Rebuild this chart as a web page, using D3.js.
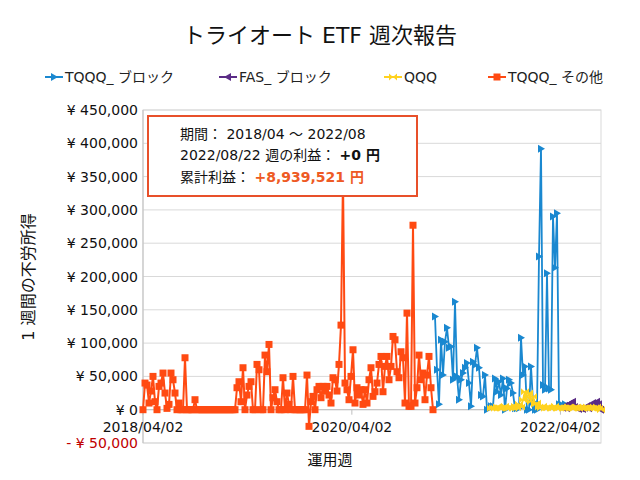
<!DOCTYPE html>
<html><head><meta charset="utf-8">
<script src="https://cdn.jsdelivr.net/npm/d3@7"></script>
<style>body{margin:0;background:#fff}svg{font-family:"DejaVu Sans","Noto Sans CJK JP",sans-serif}</style>
</head><body>
<svg id="c" width="640" height="480"></svg>
<script>
// ---- data ----
const startDate = "2018-04-02";
const endDate = "2022-08-22";
const seriesNames = ["TQQQ_ ブロック", "FAS_ ブロック", "QQQ", "TQQQ_ その他"];
// weekly values (yen); each series starts at the given week index
const tqqqOtherStart = 0;
const tqqqOther = [0,40000,37000,10000,28000,50000,12000,0,35000,40000,55000,25000,2000,8000,55000,45000,25000,0,10000,0,0,78000,0,0,0,0,15000,
0,0,0,0,0,0,0,0,0,0,0,0,0,0,0,0,0,0,0,0,
33000,42000,12000,63000,0,22000,35000,42000,0,0,68000,60000,0,0,82000,57000,98000,0,18000,30000,12000,0,0,48000,0,25000,8000,0,50000,
0,0,0,0,0,0,
52000,-25000,12000,20000,0,30000,35000,18000,35000,28000,35000,22000,10000,48000,45000,28000,68000,127000,350000,
40000,30000,15000,50000,90000,10000,33000,22000,30000,8000,30000,10000,45000,63000,20000,27000,40000,68000,80000,27000,65000,80000,45000,65000,110000,105000,57000,48000,87000,78000,10000,145000,5000,5000,277000,10000,33000,82000,45000,55000,15000,52000,80000,33000,0];
const tqqqBlockStart = 146;
const tqqqBlock = [140000,60000,8000,105000,52000,102000,123000,93000,95000,45000,162000,50000,15000,45000,55000,63000,70000,40000,5000,72000,67000,93000,63000,22000,20000,52000,0,3000,5000,5000,47000,27000,42000,22000,47000,0,32000,45000,40000,25000,2000,2000,2000,108000,52000,65000,0,0,65000,12000,0,0,230000,392000,37000,30000,205000,32000,30000,290000,213000,295000,8000,8000,5000,8000];
const qqqStart = 174;
const qqq = [2000,3000,2000,4000,3000,2000,3000,5000,2000,3000,4000,2000,5000,3000,8000,4000,15000,27000,18000,25000,12000,20000,8000,10000,4000,3000,5000,2000,3000,4000,2000,3000,5000,2000,3000,4000,2000,3000,2000,4000,3000,2000,3000,4000,2000,3000,2000,3000,4000,2000,3000,2000,3000,4000,2000,0];
const fasBlockStart = 210;
const fasBlock = [3000,6000,2000,8000,10000,12000,4000,2000,1000,2000,1000,3000,5000,2000,7000,10000,6000,12000,8000,0];
const yTicks = [-50000,0,50000,100000,150000,200000,250000,300000,350000,400000,450000];
const xTickDates = ["2018-04-02","2020-04-02","2022-04-02"];
const xTickLabels = ["2018/04/02","2020/04/02","2022/04/02"];

// ---- chart ----
const svg = d3.select("#c");
const parse = d3.timeParse("%Y-%m-%d");
const d0 = parse(startDate);
const weekDate = i => d3.timeDay.offset(d0, 7 * i);
const x = d3.scaleTime().domain([d0, parse(endDate)]).range([143, 601]);
const y = d3.scaleLinear().domain([-50000, 450000]).range([443, 110]);

const colors = {tb:"#1a88d0", fb:"#5b2c86", q:"#ffd21f", to:"#ff4a12"};

// title
svg.append("text").attr("x", 320).attr("y", 43).attr("text-anchor","middle")
  .attr("font-size", 22).attr("fill","#111").text("トライオート ETF 週次報告");

// gridlines
svg.append("g").selectAll("line").data(yTicks).join("line")
  .attr("x1",143).attr("x2",601).attr("y1",d=>y(d)).attr("y2",d=>y(d))
  .attr("stroke","#d9d9d9").attr("stroke-width",1);
svg.append("rect").attr("x",143).attr("y",110).attr("width",458).attr("height",333)
  .attr("fill","none").attr("stroke","#d9d9d9");
svg.append("line").attr("x1",143).attr("x2",143).attr("y1",110).attr("y2",443).attr("stroke","#bfbfbf");

// y axis labels
const fmt = d3.format(",");
svg.append("g").selectAll("text").data(yTicks).join("text")
  .attr("x",138).attr("y",d=>y(d)+5).attr("text-anchor","end").attr("font-size",14)
  .attr("fill",d=>d<0?"#c00000":"#111")
  .text(d=>d<0?"- ¥ "+fmt(-d):"¥ "+fmt(d));

// x axis at zero
svg.append("line").attr("x1",143).attr("x2",601).attr("y1",y(0)).attr("y2",y(0)).attr("stroke","#bfbfbf");
const xt = svg.append("g");
xTickDates.forEach((s,i)=>{
  const px = x(parse(s));
  xt.append("line").attr("x1",px).attr("x2",px).attr("y1",y(0)).attr("y2",y(0)+5).attr("stroke","#bfbfbf");
  xt.append("text").attr("x",px).attr("y",y(0)+22).attr("text-anchor","middle").attr("font-size",14).attr("fill","#111").text(xTickLabels[i]);
});

// axis titles
svg.append("text").attr("transform","translate(34,277) rotate(-90)").attr("text-anchor","middle")
  .attr("font-size",16).attr("fill","#111").text("1 週間の不労所得");
svg.append("text").attr("x",330).attr("y",465).attr("text-anchor","middle")
  .attr("font-size",15).attr("fill","#111").text("運用週");

// markers
function marker(g, type, color, px, py){
  if(type==="sq"){
    g.append("rect").attr("x",px-3.5).attr("y",py-3.5).attr("width",7).attr("height",7).attr("fill",color);
  } else if(type==="tr"){
    g.append("path").attr("d",`M${px-3},${py-4}L${px+4},${py}L${px-3},${py+4}Z`).attr("fill",color);
  } else if(type==="tl"){
    g.append("path").attr("d",`M${px+3},${py-4}L${px-4},${py}L${px+3},${py+4}Z`).attr("fill",color);
  } else if(type==="bow"){
    g.append("path").attr("d",`M${px-4},${py-3.5}L${px},${py}L${px-4},${py+3.5}ZM${px+4},${py-3.5}L${px},${py}L${px+4},${py+3.5}Z`).attr("fill",color);
  }
}

function drawSeries(vals, start, color, type, lw){
  const pts = vals.map((v,i)=>({d:weekDate(start+i), v}));
  const line = d3.line().x(p=>x(p.d)).y(p=>y(p.v));
  const g = svg.append("g");
  g.append("path").attr("d", line(pts)).attr("fill","none").attr("stroke",color)
    .attr("stroke-width",lw).attr("stroke-linejoin","round");
  pts.forEach(p=>marker(g,type,color,x(p.d),y(p.v)));
}
drawSeries(tqqqOther, tqqqOtherStart, colors.to, "sq", 2);
drawSeries(tqqqBlock, tqqqBlockStart, colors.tb, "tr", 1.8);
drawSeries(fasBlock, fasBlockStart, colors.fb, "tl", 1.8);
drawSeries(qqq, qqqStart, colors.q, "bow", 1.8);

// legend
const leg = [
  {name:seriesNames[0], c:colors.tb, t:"tr", x:54},
  {name:seriesNames[1], c:colors.fb, t:"tl", x:228},
  {name:seriesNames[2], c:colors.q, t:"bow", x:393},
  {name:seriesNames[3], c:colors.to, t:"sq", x:497}
];
const lg = svg.append("g");
leg.forEach(l=>{
  lg.append("line").attr("x1",l.x-9).attr("x2",l.x+9).attr("y1",77).attr("y2",77).attr("stroke",l.c).attr("stroke-width",2);
  marker(lg,l.t,l.c,l.x,77);
  lg.append("text").attr("x",l.x+11).attr("y",82).attr("font-size",14).attr("fill","#222").text(l.name);
});

// annotation box
const bx = svg.append("g");
bx.append("rect").attr("x",148).attr("y",116).attr("width",269).attr("height",80)
  .attr("fill","#fff").attr("stroke","#e8502a").attr("stroke-width",2);
const t1 = bx.append("text").attr("x",180).attr("y",139).attr("font-size",14).attr("fill","#111");
t1.text("期間： 2018/04 ～ 2022/08");
const t2 = bx.append("text").attr("x",180).attr("y",160).attr("font-size",14).attr("fill","#111");
t2.append("tspan").text("2022/08/22 週の利益： ");
t2.append("tspan").attr("font-weight","bold").text("+0 円");
const t3 = bx.append("text").attr("x",180).attr("y",182).attr("font-size",14).attr("fill","#111");
t3.append("tspan").text("累計利益： ");
t3.append("tspan").attr("font-weight","bold").attr("fill","#ee5a24").text("+8,939,521 円");
</script>
</body></html>
